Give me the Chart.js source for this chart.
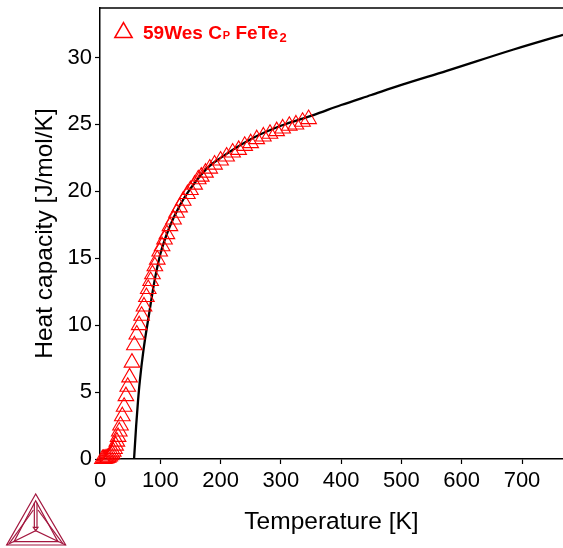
<!DOCTYPE html>
<html>
<head>
<meta charset="utf-8">
<script src="https://cdn.jsdelivr.net/npm/chart.js@4"></script>
<style>
  html, body { margin: 0; padding: 0; background: #fff; }
  #wrap { width: 563px; height: 548px; }
</style>
</head>
<body>
<div id="wrap"><canvas id="cp-chart" width="563" height="548"></canvas></div>
<script>
// 59Wes heat capacity measurements, FeTe2
var expT = [4, 6, 8, 10, 12, 14, 16, 18, 20, 22, 24, 26, 28, 30, 32, 34, 37, 40, 43, 46, 49, 53, 57, 61, 65, 69, 73, 77, 80, 84, 87, 91, 95, 99, 103, 107, 111, 116, 122, 127, 132, 138, 145, 150, 157, 163, 168, 175, 182, 190, 200, 210, 220, 230, 240, 250, 260, 271, 282, 293, 303, 314, 325, 336, 346];
var expCp = [0.0, 0.01, 0.02, 0.04, 0.07, 0.12, 0.19, 0.28, 0.4, 0.55, 0.75, 1.0, 1.3, 1.65, 2.05, 2.5, 3.2, 3.9, 4.7, 5.4, 6.1, 7.2, 8.5, 9.3, 10.0, 10.7, 11.4, 12.1, 12.7, 13.3, 13.8, 14.4, 14.9, 15.5, 15.9, 16.4, 16.8, 17.4, 17.9, 18.4, 18.8, 19.3, 19.8, 20.1, 20.5, 20.9, 21.1, 21.4, 21.7, 22.0, 22.3, 22.6, 22.9, 23.1, 23.4, 23.6, 23.9, 24.1, 24.3, 24.5, 24.7, 24.9, 25.0, 25.2, 25.4];

// calculated curve
var calcT = [56.5, 60, 63, 66, 72, 82, 90, 100, 115, 133, 150, 177, 200, 250, 300, 354, 400, 450, 500, 575, 686, 768];
var calcCp = [0, 2.5, 4.3, 5.8, 8.1, 11.0, 13.2, 15.3, 17.3, 19.0, 20.2, 21.7, 22.5, 23.9, 24.9, 25.7, 26.45, 27.2, 27.95, 29.0, 30.6, 31.7];

var xTicks = [0, 100, 200, 300, 400, 500, 600, 700];
var yTicks = [0, 5, 10, 15, 20, 25, 30];

var FONT = "'Liberation Sans', Arial, sans-serif";

function toXY(xs, ys) {
  return xs.map(function (x, i) { return { x: x, y: ys[i] }; });
}

var extras = {
  id: "extras",
  afterDraw: function (chart) {
    var ctx = chart.ctx, a = chart.chartArea;
    ctx.save();
    // top frame line
    ctx.strokeStyle = "#000";
    ctx.lineWidth = 1.5;
    ctx.beginPath();
    ctx.moveTo(a.left, a.top);
    ctx.lineTo(a.right, a.top);
    ctx.stroke();

    // legend
    ctx.strokeStyle = "#ff0000";
    ctx.fillStyle = "rgba(0,0,0,0)";
    Chart.helpers.drawPoint(ctx, { pointStyle: "triangle", radius: 10, borderWidth: 1.2, rotation: 0 }, 123.5, 32.5);
    ctx.fillStyle = "#ff0000";
    ctx.textBaseline = "alphabetic";
    var x = 143;
    ctx.font = "bold 19px " + FONT;
    ctx.fillText("59Wes C", x, 38.5);
    x += ctx.measureText("59Wes C").width + 1;
    ctx.font = "bold 11px " + FONT;
    ctx.fillText("P", x, 39);
    x += ctx.measureText("P").width;
    ctx.font = "bold 19px " + FONT;
    ctx.fillText(" FeTe", x, 38.5);
    x += ctx.measureText(" FeTe").width + 1;
    ctx.font = "bold 13px " + FONT;
    ctx.fillText("2", x, 42);

    // logo
    ctx.strokeStyle = "#a3173f";
    ctx.lineWidth = 1.2;
    function poly(pts, close) {
      ctx.beginPath();
      pts.forEach(function (p, i) {
        var px = p[0] / 3, py = 480 + p[1] / 3;
        if (i === 0) ctx.moveTo(px, py); else ctx.lineTo(px, py);
      });
      if (close) ctx.closePath();
      ctx.stroke();
    }
    poly([[107, 42], [20, 195], [197, 195]], true);
    poly([[107, 62], [42, 185], [174, 185]], true);
    poly([[103, 68], [103, 142]]);
    poly([[111, 68], [111, 142]]);
    poly([[100, 142], [114, 142], [107, 152]], true);
    poly([[20, 195], [107, 152], [197, 195]]);
    poly([[100, 90], [28, 190]]);
    poly([[114, 90], [188, 190]]);
    ctx.restore();
  }
};

new Chart(document.getElementById("cp-chart"), {
  type: "scatter",
  data: {
    datasets: [
      {
        label: "calc",
        data: toXY(calcT, calcCp),
        showLine: true,
        borderColor: "#000",
        borderWidth: 2.3,
        pointRadius: 0,
        cubicInterpolationMode: "monotone",
        order: 2
      },
      {
        label: "59Wes",
        data: toXY(expT, expCp),
        showLine: false,
        pointStyle: "triangle",
        pointRadius: 9,
        borderColor: "#ff0000",
        backgroundColor: "rgba(0,0,0,0)",
        pointBorderWidth: 1.1,
        clip: false,
        order: 1
      }
    ]
  },
  options: {
    responsive: false,
    animation: false,
    devicePixelRatio: 1,
    layout: { autoPadding: false, padding: { top: 8, right: 0, left: 0, bottom: 0 } },
    plugins: { legend: { display: false }, tooltip: { enabled: false } },
    scales: {
      x: {
        type: "linear",
        min: 0,
        max: 768,
        afterBuildTicks: function (s) { s.ticks = xTicks.map(function (v) { return { value: v }; }); },
        afterFit: function (s) { s.height = 89; s.paddingLeft = 0; s.paddingRight = 0; },
        border: { display: true, color: "#000", width: 1.5 },
        grid: { drawOnChartArea: false, drawTicks: true, tickLength: 5, color: "#000", tickWidth: 1.2 },
        ticks: { color: "#000", font: { family: FONT, size: 22 }, padding: 4, maxRotation: 0 },
        title: { display: true, text: "Temperature [K]", color: "#000", font: { family: FONT, size: 24.5 }, padding: { top: 0, bottom: 11 } }
      },
      y: {
        type: "linear",
        min: 0,
        max: 33.7,
        afterBuildTicks: function (s) { s.ticks = yTicks.map(function (v) { return { value: v }; }); },
        afterFit: function (s) { s.width = 100; s.paddingTop = 0; s.paddingBottom = 0; },
        border: { display: true, color: "#000", width: 1.5 },
        grid: { drawOnChartArea: false, drawTicks: true, tickLength: 5, color: "#000", tickWidth: 1.2 },
        ticks: { color: "#000", font: { family: FONT, size: 22 }, padding: 3 },
        title: { display: true, text: "Heat capacity [J/mol/K]", color: "#000", font: { family: FONT, size: 24.5 }, padding: { top: 31, bottom: 0 } }
      }
    }
  },
  plugins: [extras]
});
</script>
</body>
</html>
